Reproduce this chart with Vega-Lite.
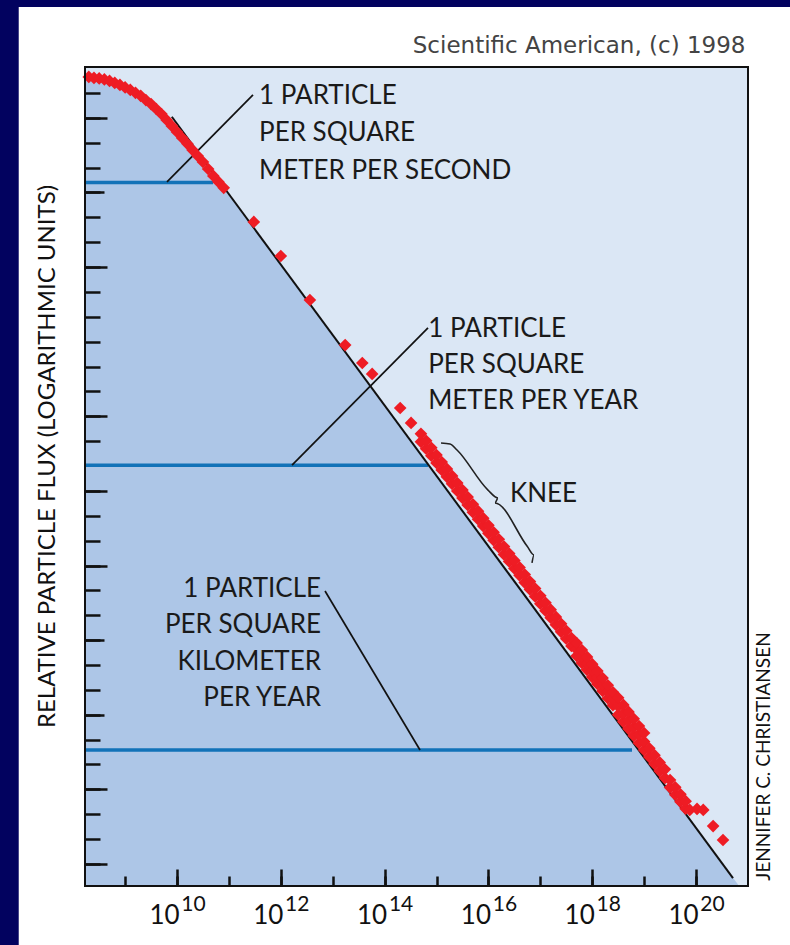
{
  "$schema": "https://vega.github.io/schema/vega-lite/v6.json",
  "width": 663,
  "height": 819,
  "autosize": {"type": "none"},
  "padding": {"left": 85, "top": 67, "right": 42, "bottom": 59},
  "background": "#02025f",
  "config": {
    "view": {"stroke": null, "fill": null},
    "axis": {"grid": false, "domain": false, "labelFont": "Lato", "titleFont": "Lato", "labelColor": "#111111", "titleColor": "#111111", "tickColor": "#111111"}
  },
  "resolve": {"axis": {"x": "independent", "y": "independent"}},
  "datasets": {
    "red": [
      {"L": 8.3, "v": 32.53}, {"L": 8.4, "v": 32.49}, {"L": 8.5, "v": 32.47}, {"L": 8.6, "v": 32.43}, {"L": 8.7, "v": 32.37},
      {"L": 8.8, "v": 32.29}, {"L": 8.9, "v": 32.21}, {"L": 9.0, "v": 32.11}, {"L": 9.1, "v": 32.01}, {"L": 9.2, "v": 31.89},
      {"L": 9.3, "v": 31.77}, {"L": 9.4, "v": 31.6}, {"L": 9.5, "v": 31.44}, {"L": 9.6, "v": 31.24}, {"L": 9.7, "v": 31.04},
      {"L": 9.8, "v": 30.8}, {"L": 9.9, "v": 30.56}, {"L": 10.0, "v": 30.32}, {"L": 10.1, "v": 30.08}, {"L": 10.2, "v": 29.84},
      {"L": 10.3, "v": 29.59}, {"L": 10.4, "v": 29.35}, {"L": 10.5, "v": 29.11}, {"L": 10.6, "v": 28.83}, {"L": 10.7, "v": 28.55},
      {"L": 10.8, "v": 28.31}, {"L": 10.9, "v": 28.07},
      {"L": 11.48, "v": 26.7}, {"L": 12.0, "v": 25.33}, {"L": 12.56, "v": 23.56}, {"L": 13.24, "v": 21.75},
      {"L": 13.57, "v": 21.03}, {"L": 13.76, "v": 20.59}, {"L": 14.3, "v": 19.22}, {"L": 14.51, "v": 18.62},
      {"L": 14.7, "v": 17.86}, {"L": 14.7, "v": 18.18}, {"L": 14.8, "v": 17.58}, {"L": 14.8, "v": 17.9},
      {"L": 14.9, "v": 17.3}, {"L": 14.9, "v": 17.62}, {"L": 15.0, "v": 17.01}, {"L": 15.0, "v": 17.33},
      {"L": 15.1, "v": 16.73}, {"L": 15.1, "v": 17.05}, {"L": 15.2, "v": 16.45}, {"L": 15.2, "v": 16.77},
      {"L": 15.3, "v": 16.17}, {"L": 15.3, "v": 16.49}, {"L": 15.4, "v": 15.88}, {"L": 15.4, "v": 16.2},
      {"L": 15.5, "v": 15.6}, {"L": 15.5, "v": 15.92}, {"L": 15.6, "v": 15.32}, {"L": 15.6, "v": 15.64},
      {"L": 15.7, "v": 15.03}, {"L": 15.7, "v": 15.35}, {"L": 15.8, "v": 14.75}, {"L": 15.8, "v": 15.07},
      {"L": 15.9, "v": 14.47}, {"L": 15.9, "v": 14.79}, {"L": 16.0, "v": 14.18}, {"L": 16.0, "v": 14.5},
      {"L": 16.1, "v": 13.9}, {"L": 16.1, "v": 14.22}, {"L": 16.2, "v": 13.62}, {"L": 16.2, "v": 13.94},
      {"L": 16.3, "v": 13.33}, {"L": 16.3, "v": 13.65}, {"L": 16.4, "v": 13.05}, {"L": 16.4, "v": 13.37},
      {"L": 16.5, "v": 12.77}, {"L": 16.5, "v": 13.09}, {"L": 16.6, "v": 12.49}, {"L": 16.6, "v": 12.81},
      {"L": 16.7, "v": 12.2}, {"L": 16.7, "v": 12.52}, {"L": 16.8, "v": 11.92}, {"L": 16.8, "v": 12.24},
      {"L": 16.9, "v": 11.64}, {"L": 16.9, "v": 11.96}, {"L": 17.0, "v": 11.35}, {"L": 17.0, "v": 11.67},
      {"L": 17.1, "v": 11.07}, {"L": 17.1, "v": 11.39}, {"L": 17.2, "v": 10.79}, {"L": 17.2, "v": 11.11},
      {"L": 17.3, "v": 10.5}, {"L": 17.3, "v": 10.82}, {"L": 17.4, "v": 10.22}, {"L": 17.4, "v": 10.54},
      {"L": 17.5, "v": 9.94}, {"L": 17.5, "v": 10.26}, {"L": 17.6, "v": 9.65}, {"L": 17.6, "v": 9.97},
      {"L": 17.7, "v": 9.25}, {"L": 17.7, "v": 9.51}, {"L": 17.7, "v": 9.77},
      {"L": 17.8, "v": 8.97}, {"L": 17.8, "v": 9.23}, {"L": 17.8, "v": 9.49},
      {"L": 17.9, "v": 8.69}, {"L": 17.9, "v": 8.95}, {"L": 17.9, "v": 9.21},
      {"L": 18.0, "v": 8.4}, {"L": 18.0, "v": 8.66}, {"L": 18.0, "v": 8.92},
      {"L": 18.1, "v": 8.12}, {"L": 18.1, "v": 8.38}, {"L": 18.1, "v": 8.64},
      {"L": 18.2, "v": 7.84}, {"L": 18.2, "v": 8.1}, {"L": 18.2, "v": 8.36},
      {"L": 18.3, "v": 7.55}, {"L": 18.3, "v": 7.81}, {"L": 18.3, "v": 8.07},
      {"L": 18.4, "v": 7.27}, {"L": 18.4, "v": 7.53}, {"L": 18.4, "v": 7.79},
      {"L": 18.5, "v": 6.89}, {"L": 18.5, "v": 7.23}, {"L": 18.5, "v": 7.57},
      {"L": 18.6, "v": 6.6}, {"L": 18.6, "v": 6.94}, {"L": 18.6, "v": 7.28},
      {"L": 18.7, "v": 6.32}, {"L": 18.7, "v": 6.66}, {"L": 18.7, "v": 7.0},
      {"L": 18.8, "v": 6.04}, {"L": 18.8, "v": 6.38}, {"L": 18.8, "v": 6.72},
      {"L": 18.9, "v": 5.75}, {"L": 18.9, "v": 6.09}, {"L": 18.9, "v": 6.43},
      {"L": 19.0, "v": 5.47}, {"L": 19.0, "v": 5.81}, {"L": 19.0, "v": 6.15},
      {"L": 19.1, "v": 5.19}, {"L": 19.1, "v": 5.54}, {"L": 19.2, "v": 4.91}, {"L": 19.2, "v": 5.26},
      {"L": 19.3, "v": 4.62}, {"L": 19.3, "v": 4.97}, {"L": 19.4, "v": 4.34}, {"L": 19.4, "v": 4.69},
      {"L": 19.5, "v": 3.96}, {"L": 19.5, "v": 4.26}, {"L": 19.6, "v": 3.67}, {"L": 19.6, "v": 3.97},
      {"L": 19.7, "v": 3.39}, {"L": 19.7, "v": 3.69}, {"L": 19.8, "v": 3.11}, {"L": 19.8, "v": 3.41},
      {"L": 19.88, "v": 3.06}, {"L": 20.02, "v": 3.1}, {"L": 20.14, "v": 3.06},
      {"L": 20.33, "v": 2.41}, {"L": 20.52, "v": 1.85}
    ],
    "fill": [
      {"L": 8.227, "v": 32.6}, {"L": 8.5, "v": 32.5}, {"L": 8.8, "v": 32.32}, {"L": 9.1, "v": 32.04},
      {"L": 9.4, "v": 31.63}, {"L": 9.7, "v": 31.07}, {"L": 10.0, "v": 30.35}, {"L": 10.3, "v": 29.62},
      {"L": 10.6, "v": 28.86}, {"L": 10.9, "v": 28.1}, {"L": 20.83, "v": 0}
    ],
    "bline": [{"L": 9.9, "v": 30.93}, {"L": 20.713, "v": 0.32}],
    "blue": [
      {"L": 8.227, "L2": 10.694, "v": 28.29},
      {"L": 8.227, "L2": 14.836, "v": 16.92},
      {"L": 8.227, "L2": 18.767, "v": 5.47}
    ],
    "leaders": [
      {"L": 9.807, "v": 28.31, "L2": 11.464, "v2": 31.81},
      {"L": 12.216, "v": 16.92, "L2": 14.836, "v2": 22.44},
      {"L": 12.852, "v": 11.86, "L2": 14.682, "v2": 5.47}
    ],
    "brace": [
      {"i": 1, "L": 15.087, "v": 17.81}, {"i": 2, "L": 15.26, "v": 17.77}, {"i": 3, "L": 15.395, "v": 17.53},
      {"i": 4, "L": 15.992, "v": 15.92}, {"i": 5, "L": 16.185, "v": 15.6}, {"i": 6, "L": 16.127, "v": 15.4},
      {"i": 7, "L": 16.744, "v": 13.67}, {"i": 8, "L": 16.879, "v": 13.31}, {"i": 9, "L": 16.84, "v": 12.99}
    ],
    "textL": [
      {"L": 11.58, "v": 31.77, "t": "1 PARTICLE"}, {"L": 11.58, "v": 30.28, "t": "PER SQUARE"},
      {"L": 11.58, "v": 28.75, "t": "METER PER SECOND"},
      {"L": 14.84, "v": 22.4, "t": "1 PARTICLE"}, {"L": 14.84, "v": 20.95, "t": "PER SQUARE"},
      {"L": 14.84, "v": 19.5, "t": "METER PER YEAR"},
      {"L": 16.416, "v": 15.76, "t": "KNEE"}
    ],
    "textR": [
      {"L": 12.775, "v": 11.94, "t": "1 PARTICLE"}, {"L": 12.775, "v": 10.49, "t": "PER SQUARE"},
      {"L": 12.775, "v": 9.01, "t": "KILOMETER"}, {"L": 12.775, "v": 7.56, "t": "PER YEAR"}
    ]
  },
  "layer": [
    {
      "data": {"values": [{}]},
      "mark": {"type": "rect", "fill": "#ffffff"},
      "encoding": {
        "x": {"datum": 6.95, "type": "quantitative", "scale": {"domain": [8.227, 21.002], "nice": false, "zero": false},
          "axis": {"orient": "top", "zindex": 2, "ticks": false, "labels": false, "title": "Scientific American, (c) 1998", "titleFont": "DejaVu Sans", "titleFontSize": 23, "titleFontWeight": "normal", "titleColor": "#444444", "titleX": 660, "titleY": -22, "titleAlign": "right", "titleBaseline": "middle", "titleAngle": 0}},
        "x2": {"datum": 22.5},
        "y": {"datum": -3, "type": "quantitative", "scale": {"domain": [0, 32.93], "nice": false, "zero": false}, "axis": null},
        "y2": {"datum": 35.34}
      }
    },
    {
      "data": {"values": [{}]},
      "mark": {"type": "rect", "fill": "#dbe7f5"},
      "encoding": {
        "x": {"datum": 8.227, "type": "quantitative", "scale": {"domain": [8.227, 21.002], "nice": false, "zero": false},
          "axis": {"orient": "bottom", "zindex": 2, "values": [10, 12, 14, 16, 18, 20], "labelExpr": "'10'", "ticks": false, "tickSize": 0, "labelFontSize": 26, "labelOffset": -13, "labelBaseline": "middle", "labelPadding": 29, "labelFlush": false, "labelOverlap": false, "labelBound": false, "title": null}},
        "x2": {"datum": 21.002},
        "y": {"datum": 0, "type": "quantitative", "scale": {"domain": [0, 32.93], "nice": false, "zero": false},
          "axis": {"orient": "left", "zindex": 2, "values": [31.886, 30.886, 29.886, 28.886, 27.886, 26.886, 25.886, 24.886, 23.886, 22.886, 21.886, 20.886, 19.886, 18.886, 17.886, 15.886, 14.886, 13.886, 12.886, 11.886, 10.886, 9.886, 8.886, 7.886, 6.886, 5.886, 4.886, 3.886, 2.886, 1.886, 0.886],
            "labels": false, "tickSize": -15, "tickWidth": 2.5, "title": "RELATIVE PARTICLE FLUX (LOGARITHMIC UNITS)", "titleFontSize": 24, "titleFontWeight": "normal", "titleAngle": 270, "titleX": -38, "titleY": 389, "titleAlign": "center", "titleBaseline": "middle"}},
        "y2": {"datum": 32.93}
      }
    },
    {
      "data": {"name": "fill"},
      "mark": {"type": "area", "color": "#adc6e7", "opacity": 1},
      "encoding": {
        "x": {"field": "L", "type": "quantitative", "scale": {"domain": [8.227, 21.002], "nice": false, "zero": false},
          "axis": {"orient": "bottom", "zindex": 2, "values": [10, 12, 14, 16, 18, 20], "labelExpr": "'' + datum.value", "ticks": false, "tickSize": 0, "labelFontSize": 21, "labelOffset": 16, "labelBaseline": "middle", "labelPadding": 18, "labelFlush": false, "labelOverlap": false, "labelBound": false, "title": null}},
        "y": {"field": "v", "type": "quantitative", "scale": {"domain": [0, 32.93], "nice": false, "zero": false},
          "axis": {"orient": "left", "zindex": 2, "values": [30.886, 24.886, 18.886, 15.886, 12.886, 3.886, 0.886], "labels": false, "tickSize": -22, "tickWidth": 2.5, "title": null}}
      }
    },
    {
      "data": {"name": "blue"},
      "mark": {"type": "rule", "color": "#1272b8", "strokeWidth": 3.5},
      "encoding": {
        "x": {"field": "L", "type": "quantitative", "scale": {"domain": [8.227, 21.002], "nice": false, "zero": false},
          "axis": {"orient": "bottom", "zindex": 2, "values": [10, 12, 14, 16, 18, 20], "labels": false, "tickSize": -17, "tickWidth": 2.5, "title": null}},
        "x2": {"field": "L2"},
        "y": {"field": "v", "type": "quantitative", "scale": {"domain": [0, 32.93], "nice": false, "zero": false},
          "axis": {"orient": "right", "zindex": 2, "labels": false, "ticks": false, "title": "JENNIFER C. CHRISTIANSEN", "titleFontSize": 19, "titleFontWeight": "normal", "titleAngle": 270, "titleX": 15, "titleY": 689, "titleAlign": "center", "titleBaseline": "middle"}}
      }
    },
    {
      "data": {"name": "bline"},
      "mark": {"type": "line", "color": "#111111", "strokeWidth": 2},
      "encoding": {
        "x": {"field": "L", "type": "quantitative", "scale": {"domain": [8.227, 21.002], "nice": false, "zero": false},
          "axis": {"orient": "bottom", "zindex": 2, "values": [9, 10, 11, 12, 13, 14, 15, 16, 17, 18, 19, 20], "labels": false, "tickSize": -10, "tickWidth": 2.5, "title": null}},
        "y": {"field": "v", "type": "quantitative", "scale": {"domain": [0, 32.93], "nice": false, "zero": false},
          "axis": {"orient": "left", "zindex": 2, "values": [27.886, 9.886, 6.886], "labels": false, "tickSize": -19, "tickWidth": 2.5, "title": null}}
      }
    },
    {
      "data": {"name": "leaders"},
      "mark": {"type": "rule", "color": "#111111", "strokeWidth": 1.7},
      "encoding": {
        "x": {"field": "L", "type": "quantitative", "scale": {"domain": [8.227, 21.002], "nice": false, "zero": false}, "axis": null},
        "x2": {"field": "L2"},
        "y": {"field": "v", "type": "quantitative", "scale": {"domain": [0, 32.93], "nice": false, "zero": false}, "axis": null},
        "y2": {"field": "v2"}
      }
    },
    {
      "data": {"name": "brace"},
      "mark": {"type": "line", "color": "#222222", "strokeWidth": 1.6, "interpolate": "monotone"},
      "encoding": {
        "x": {"field": "L", "type": "quantitative", "scale": {"domain": [8.227, 21.002], "nice": false, "zero": false}, "axis": null},
        "y": {"field": "v", "type": "quantitative", "scale": {"domain": [0, 32.93], "nice": false, "zero": false}, "axis": null},
        "order": {"field": "i", "type": "quantitative"}
      }
    },
    {
      "data": {"name": "red"},
      "mark": {"type": "point", "shape": "diamond", "filled": true, "size": 160, "color": "#ee1c24", "opacity": 1},
      "encoding": {
        "x": {"field": "L", "type": "quantitative", "scale": {"domain": [8.227, 21.002], "nice": false, "zero": false}, "axis": null},
        "y": {"field": "v", "type": "quantitative", "scale": {"domain": [0, 32.93], "nice": false, "zero": false}, "axis": null}
      }
    },
    {
      "data": {"name": "textL"},
      "mark": {"type": "text", "align": "left", "baseline": "middle", "font": "Lato", "fontSize": 26, "color": "#1a1a1a"},
      "encoding": {
        "x": {"field": "L", "type": "quantitative", "scale": {"domain": [8.227, 21.002], "nice": false, "zero": false}, "axis": null},
        "y": {"field": "v", "type": "quantitative", "scale": {"domain": [0, 32.93], "nice": false, "zero": false}, "axis": null},
        "text": {"field": "t"}
      }
    },
    {
      "data": {"name": "textR"},
      "mark": {"type": "text", "align": "right", "baseline": "middle", "font": "Lato", "fontSize": 26, "color": "#1a1a1a"},
      "encoding": {
        "x": {"field": "L", "type": "quantitative", "scale": {"domain": [8.227, 21.002], "nice": false, "zero": false}, "axis": null},
        "y": {"field": "v", "type": "quantitative", "scale": {"domain": [0, 32.93], "nice": false, "zero": false}, "axis": null},
        "text": {"field": "t"}
      }
    },
    {
      "data": {"values": [{}]},
      "mark": {"type": "rect", "fillOpacity": 0, "stroke": "#111111", "strokeWidth": 2},
      "encoding": {
        "x": {"datum": 8.227, "type": "quantitative", "scale": {"domain": [8.227, 21.002], "nice": false, "zero": false}, "axis": null},
        "x2": {"datum": 21.002},
        "y": {"datum": 0, "type": "quantitative", "scale": {"domain": [0, 32.93], "nice": false, "zero": false}, "axis": null},
        "y2": {"datum": 32.93}
      }
    }
  ]
}
